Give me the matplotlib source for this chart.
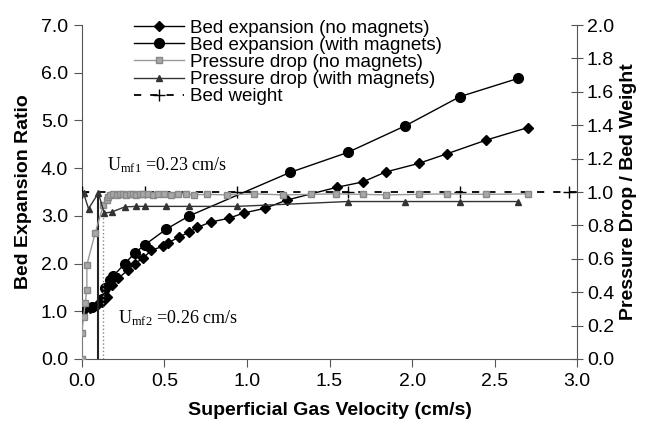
import matplotlib
matplotlib.use("Agg")
import matplotlib.pyplot as plt

plt.rcParams['font.family'] = ['Liberation Sans', 'DejaVu Sans']
plt.rcParams['mathtext.fontset'] = 'custom'
plt.rcParams['mathtext.rm'] = 'Liberation Serif'

# Bed expansion, no magnets (diamonds)
x_nomag = [0.0, 0.05, 0.09, 0.12, 0.15, 0.18, 0.22, 0.28, 0.32, 0.37, 0.42, 0.49, 0.52,
           0.59, 0.65, 0.70, 0.78, 0.89, 0.98, 1.11, 1.24, 1.545, 1.70, 1.84, 2.04, 2.21,
           2.45, 2.70]
be_nomag = [1.0, 1.07, 1.13, 1.19, 1.30, 1.55, 1.69, 1.87, 2.0, 2.11, 2.28, 2.36, 2.43,
            2.56, 2.66, 2.76, 2.87, 2.95, 3.06, 3.16, 3.33, 3.6, 3.71, 3.92, 4.1, 4.3,
            4.59, 4.85]

# Bed expansion, with magnets (circles)
x_mag = [0.0, 0.06, 0.12, 0.14, 0.17, 0.19, 0.26, 0.32, 0.38, 0.51, 0.65, 1.26, 1.61,
         1.96, 2.29, 2.64]
be_mag = [1.0, 1.1, 1.25, 1.48, 1.65, 1.74, 2.0, 2.22, 2.39, 2.72, 3.0, 3.91, 4.33,
          4.89, 5.5, 5.88]

# Pressure drop / bed weight, no magnets (squares)
x_dp_nomag = [0.0, 0.0, 0.01, 0.02, 0.03, 0.03, 0.08, 0.13, 0.15, 0.16, 0.17, 0.19, 0.21,
              0.23, 0.25, 0.27, 0.29, 0.31, 0.33, 0.35, 0.37, 0.40, 0.43, 0.46, 0.50,
              0.54, 0.58, 0.63, 0.68, 0.76, 0.88, 1.04, 1.22, 1.39, 1.54, 1.70, 1.84,
              2.04, 2.21, 2.45, 2.70]
dp_nomag = [0.0, 0.157, 0.254, 0.334, 0.414, 0.563, 0.754, 0.923, 0.951, 0.971, 0.983,
            0.986, 0.983, 0.986, 0.989, 0.983, 0.986, 0.989, 0.983, 0.986, 0.989, 0.986,
            0.983, 0.989, 0.986, 0.983, 0.986, 0.989, 0.983, 0.986, 0.983, 0.989, 0.983,
            0.986, 0.989, 0.986, 0.983, 0.986, 0.989, 0.986, 0.989]

# Pressure drop / bed weight, with magnets (triangles)
x_dp_mag = [0.01, 0.04, 0.10, 0.135, 0.18, 0.26, 0.33, 0.38, 0.51, 0.65, 0.94, 1.61,
            1.96, 2.29, 2.64]
dp_mag = [0.994, 0.90, 0.994, 0.874, 0.88, 0.911, 0.914, 0.914, 0.914, 0.914, 0.914,
          0.943, 0.943, 0.943, 0.943]

# Bed weight reference
x_bw = [0.0, 0.38, 0.94, 1.61, 2.29, 2.95]
bw = [1.0, 1.0, 1.0, 1.0, 1.0, 1.0]

# minimum fluidisation markers
x_umf1 = [0.10, 0.10]
y_umf1 = [0.0, 0.994]
x_umf2 = [0.13, 0.13]
y_umf2 = [0.0, 0.94]

fig = plt.figure(figsize=(6.5, 4.32), dpi=100)
ax = fig.add_axes([0.126, 0.169, 0.762, 0.773])
ax2 = ax.twinx()

l1, = ax.plot(x_nomag, be_nomag, color='black', lw=1, marker='D', ms=5, zorder=5,
              label='Bed expansion (no magnets)')
l2, = ax.plot(x_mag, be_mag, color='black', lw=1, marker='o', ms=7, zorder=5,
              label='Bed expansion (with magnets)')

ax2.plot(x_umf1, y_umf1, color='#222222', lw=1.5)
ax2.plot(x_umf2, y_umf2, color='#888888', lw=1, ls=':')
l5, = ax2.plot(x_bw + [3.0], bw + [1.0], color='black', lw=1.3, ls=(0, (4, 5)),
               marker='+', ms=9, markevery=list(range(len(x_bw))), label='Bed weight')
l3, = ax2.plot(x_dp_nomag, dp_nomag, color='#999999', lw=1, marker='s', ms=5,
               mfc='#a8a8a8', mec='#888888', label='Pressure drop (no magnets)')
l4, = ax2.plot(x_dp_mag, dp_mag, color='#333333', lw=1, marker='^', ms=4,
               label='Pressure drop (with magnets)')

ax.set_xlim(0, 3.0)
ax.set_ylim(0, 7.0)
ax2.set_ylim(0, 2.0)
ax.set_xticks([0.0, 0.5, 1.0, 1.5, 2.0, 2.5, 3.0])
ax.set_xticklabels(['0.0', '0.5', '1.0', '1.5', '2.0', '2.5', '3.0'])
ax.set_yticks([0, 1, 2, 3, 4, 5, 6, 7])
ax.set_yticklabels([f'{v:.1f}' for v in range(8)])
ax2.set_yticks([0, 0.2, 0.4, 0.6, 0.8, 1.0, 1.2, 1.4, 1.6, 1.8, 2.0])
ax2.set_yticklabels([f'{v:.1f}' for v in [0, 0.2, 0.4, 0.6, 0.8, 1.0, 1.2, 1.4, 1.6, 1.8, 2.0]])

for a in (ax, ax2):
    a.spines['top'].set_visible(False)
ax.spines['right'].set_visible(False)
ax.spines['left'].set_color('#555555')
ax.spines['bottom'].set_color('#555555')
ax2.spines['right'].set_color('#555555')
ax2.spines['left'].set_visible(False)
ax2.spines['bottom'].set_visible(False)

ax.tick_params(axis='both', labelsize=14, length=6, width=0.8, color='#555555', pad=4)
ax2.tick_params(axis='y', labelsize=14, length=8, width=0.8, color='#555555',
                direction='inout', pad=3)

ax.set_xlabel('Superficial Gas Velocity (cm/s)', fontsize=14, fontweight='bold', labelpad=9)
ax.set_ylabel('Bed Expansion Ratio', fontsize=14, fontweight='bold', labelpad=6)
ax2.set_ylabel('Pressure Drop / Bed Weight', fontsize=14, fontweight='bold', labelpad=4)

ax.text(0.15, 4.07, r'$\mathrm{U_{mf1}}$ =0.23 cm/s', fontsize=13,
        family='Liberation Serif', va='center', ha='left')
ax.text(0.22, 0.86, r'$\mathrm{U_{mf2}}$ =0.26 cm/s', fontsize=13,
        family='Liberation Serif', va='center', ha='left')

leg = ax.legend(handles=[l1, l2, l3, l4, l5], loc='upper left',
                bbox_to_anchor=(0.082, 1.05), frameon=False, fontsize=13.5,
                labelspacing=0.0, handlelength=2.7, handletextpad=0.3,
                borderpad=0.1)

fig.savefig('out.png', dpi=100)
